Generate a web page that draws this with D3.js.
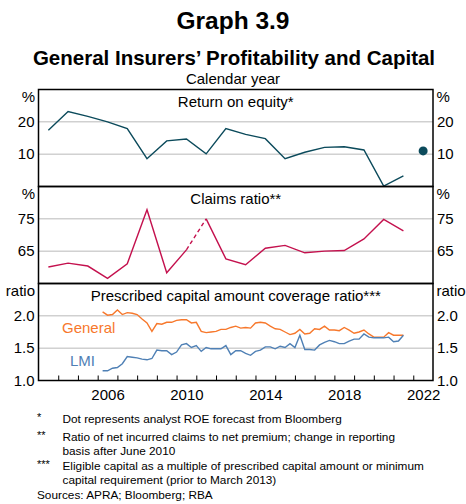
<!DOCTYPE html>
<html>
<head>
<meta charset="utf-8">
<script src="https://cdn.jsdelivr.net/npm/d3@7"></script>
<style>
  body { margin: 0; background: #fff; }
  svg text { font-family: "Liberation Sans", Arial, sans-serif; fill: #000; }
</style>
</head>
<body>
<div id="graph"></div>
<script>
// annual data, plotted at mid-year
var years = [2003, 2004, 2005, 2006, 2007, 2008, 2009, 2010, 2011, 2012, 2013, 2014, 2015, 2016, 2017, 2018, 2019, 2020, 2021];
var roe = [17.4, 23.2, 21.7, 20.0, 17.9, 8.6, 14.1, 14.7, 10.1, 17.9, 16.1, 14.8, 8.6, 10.6, 12.1, 12.3, 11.3, 0.1, 3.3];
var roeForecastYear = 2022;
var roeForecast = 11.0;
var claims = [60.1, 61.3, 60.4, 56.6, 61.1, 77.8, 58.3, 65.4, 75.0, 62.6, 60.8, 65.9, 66.8, 64.5, 65.0, 65.2, 68.8, 74.8, 71.3];
var claimsBreakYear = 2010; // basis changes after June 2010 -> dashed segment

// quarterly coverage ratios, Mar 2006 to Jun 2021
var quarterStart = 2006;
var general = [2.06, 2.01, 2.02, 2.09, 2.02, 2.05, 2.04, 2.02, 1.95, 1.89, 1.76, 1.88, 1.87, 1.90, 1.90, 1.93,
    1.94, 1.94, 1.89, 1.90, 1.76, 1.74, 1.75, 1.76, 1.79, 1.79, 1.82, 1.84, 1.81, 1.82, 1.81, 1.89,
    1.90, 1.89, 1.84, 1.80, 1.79, 1.75, 1.71, 1.73, 1.79, 1.72, 1.73, 1.80, 1.79, 1.84, 1.78, 1.78,
    1.77, 1.82, 1.78, 1.73, 1.75, 1.78, 1.72, 1.67, 1.67, 1.67, 1.74, 1.70, 1.70, 1.70];
var lmi = [1.15, 1.15, 1.19, 1.20, 1.26, 1.37, 1.36, 1.35, 1.33, 1.32, 1.34, 1.47, 1.46, 1.46, 1.40, 1.44,
    1.55, 1.57, 1.51, 1.54, 1.45, 1.51, 1.49, 1.49, 1.49, 1.54, 1.40, 1.46, 1.46, 1.42, 1.39, 1.45,
    1.47, 1.52, 1.52, 1.49, 1.53, 1.51, 1.57, 1.51, 1.70, 1.48, 1.48, 1.47, 1.55, 1.59, 1.62, 1.60,
    1.57, 1.57, 1.61, 1.64, 1.64, 1.72, 1.67, 1.66, 1.66, 1.66, 1.67, 1.60, 1.61, 1.70];

var xLabels = [2006, 2010, 2014, 2018, 2022];
var roeTicks = [10, 20];
var claimsTicks = [65, 75];
var coverTicks = [1.0, 1.5, 2.0];

var W = 466, H = 504;
var left = 38.5, right = 433;
var panelTop = [89.5, 186.5, 283.5];
var panelH = 97;

var svg = d3.select("#graph")
    .append("svg")
    .attr("width", W)
    .attr("height", H);

// titles
svg.append("text").attr("x", W / 2).attr("y", 29).attr("text-anchor", "middle")
    .style("font-size", "24.5px").style("font-weight", "bold").text("Graph 3.9");
svg.append("text").attr("x", W / 2 + 1).attr("y", 65).attr("text-anchor", "middle")
    .style("font-size", "20.5px").style("font-weight", "bold").text("General Insurers’ Profitability and Capital");
svg.append("text").attr("x", W / 2).attr("y", 84).attr("text-anchor", "middle")
    .style("font-size", "15px").text("Calendar year");

var x = d3.scaleLinear().domain([2003, 2023]).range([left, right]);

var panels = [
    { title: "Return on equity*", unit: "%", domain: [0, 30], ticks: roeTicks, fmt: d3.format("d") },
    { title: "Claims ratio**", unit: "%", domain: [55, 85], ticks: claimsTicks, fmt: d3.format("d") },
    { title: "Prescribed capital amount coverage ratio***", unit: "ratio", domain: [1, 2.5], ticks: coverTicks, fmt: d3.format(".1f") }
];

var ys = panels.map(function(p, i) {
    return d3.scaleLinear().domain(p.domain).range([panelTop[i] + panelH, panelTop[i]]);
});

panels.forEach(function(p, i) {
    var y = ys[i];
    var g = svg.append("g");

    // gridlines
    g.selectAll(".grid")
        .data(p.ticks.filter(function(t) { return t > p.domain[0]; }))
        .enter()
        .append("line")
        .attr("x1", left).attr("x2", right)
        .attr("y1", function(d) { return y(d); })
        .attr("y2", function(d) { return y(d); })
        .attr("stroke", "#b9b9b9").attr("stroke-width", 1);

    // tick labels both sides
    var la = g.append("g").attr("transform", "translate(" + left + ",0)")
        .call(d3.axisLeft(y).tickValues(p.ticks).tickFormat(p.fmt).tickSize(0).tickPadding(4));
    var ra = g.append("g").attr("transform", "translate(" + right + ",0)")
        .call(d3.axisRight(y).tickValues(p.ticks).tickFormat(p.fmt).tickSize(0).tickPadding(4));
    [la, ra].forEach(function(a) {
        a.select(".domain").remove();
        a.selectAll("text").style("font-size", "15px").attr("font-family", null).attr("fill", "#000");
    });

    // units
    g.append("text").attr("x", left - 3.5).attr("y", panelTop[i] + 12).attr("text-anchor", "end")
        .style("font-size", "15px").text(p.unit);
    g.append("text").attr("x", right + 3.5).attr("y", panelTop[i] + 12)
        .style("font-size", "15px").text(p.unit);

    // panel title
    g.append("text").attr("x", (left + right) / 2).attr("y", panelTop[i] + 17).attr("text-anchor", "middle")
        .style("font-size", "15px").text(p.title);
});

// ROE line
var roeData = years.map(function(yr, i) { return { x: yr + 0.5, v: roe[i] }; });
var lineRoe = d3.line().x(function(d) { return x(d.x); }).y(function(d) { return ys[0](d.v); });
svg.append("path").datum(roeData).attr("d", lineRoe)
    .attr("fill", "none").attr("stroke", "#0b4a5b").attr("stroke-width", 1.4);
svg.append("circle").attr("cx", x(roeForecastYear + 0.5)).attr("cy", ys[0](roeForecast))
    .attr("r", 4.5).attr("fill", "#0b4a5b");

// claims ratio, dashed over the change in basis
var claimsData = years.map(function(yr, i) { return { x: yr + 0.5, v: claims[i] }; });
var lineClaims = d3.line().x(function(d) { return x(d.x); }).y(function(d) { return ys[1](d.v); });
var before = claimsData.filter(function(d) { return d.x <= claimsBreakYear + 0.5; });
var bridge = claimsData.filter(function(d) { return d.x >= claimsBreakYear + 0.5 && d.x <= claimsBreakYear + 1.5; });
var after = claimsData.filter(function(d) { return d.x >= claimsBreakYear + 1.5; });
[before, bridge, after].forEach(function(seg, k) {
    svg.append("path").datum(seg).attr("d", lineClaims)
        .attr("fill", "none").attr("stroke", "#c4114e").attr("stroke-width", 1.4)
        .attr("stroke-dasharray", k == 1 ? "4,3" : null);
});

// coverage ratios
var quarterX = general.map(function(d, i) { return quarterStart + (i + 1) * 0.25; });
var lineCover = d3.line().x(function(d, i) { return x(quarterX[i]); }).y(function(d) { return ys[2](d); });
svg.append("path").datum(general).attr("d", lineCover)
    .attr("fill", "none").attr("stroke", "#f7782c").attr("stroke-width", 1.4);
svg.append("path").datum(lmi).attr("d", lineCover)
    .attr("fill", "none").attr("stroke", "#4f80b5").attr("stroke-width", 1.4);
svg.append("text").attr("x", 62).attr("y", 333).style("font-size", "15px")
    .style("fill", "#f7782c").text("General");
svg.append("text").attr("x", 70).attr("y", 366).style("font-size", "15px")
    .style("fill", "#4f80b5").text("LMI");

// x axis: yearly ticks pointing in, labels at mid-year
var bottom = panelTop[2] + panelH;
var tickAxis = svg.append("g").attr("transform", "translate(0," + bottom + ")")
    .call(d3.axisBottom(x).tickValues(d3.range(2004, 2023)).tickSize(-5).tickFormat(""));
tickAxis.select(".domain").remove();
tickAxis.selectAll("line").attr("stroke", "#000");
var labAxis = svg.append("g").attr("transform", "translate(0," + bottom + ")")
    .call(d3.axisBottom(x).tickValues(xLabels.map(function(d) { return d + 0.5; }))
        .tickFormat(function(d) { return Math.floor(d); }).tickSize(0).tickPadding(9));
labAxis.select(".domain").remove();
labAxis.selectAll("text").style("font-size", "15px").attr("font-family", null).attr("fill", "#000");

// panel frames
panelTop.forEach(function(t) {
    svg.append("rect").attr("x", left).attr("y", t).attr("width", right - left).attr("height", panelH)
        .attr("fill", "none").attr("stroke", "#000").attr("stroke-width", 1.5);
});

// footnotes
var notes = [
    { mark: "*", lines: ["Dot represents analyst ROE forecast from Bloomberg"], y: 423 },
    { mark: "**", lines: ["Ratio of net incurred claims to net premium; change in reporting", "basis after June 2010"], y: 441 },
    { mark: "***", lines: ["Eligible capital as a multiple of prescribed capital amount or minimum", "capital requirement (prior to March 2013)"], y: 470 }
];
notes.forEach(function(n) {
    svg.append("text").attr("x", 37).attr("y", n.y - 2).style("font-size", "11px").text(n.mark);
    n.lines.forEach(function(l, j) {
        svg.append("text").attr("x", 62.5).attr("y", n.y + j * 14).style("font-size", "11.8px").text(l);
    });
});
svg.append("text").attr("x", 37).attr("y", 499).style("font-size", "11.8px").text("Sources: APRA; Bloomberg; RBA");
</script>
</body>
</html>
